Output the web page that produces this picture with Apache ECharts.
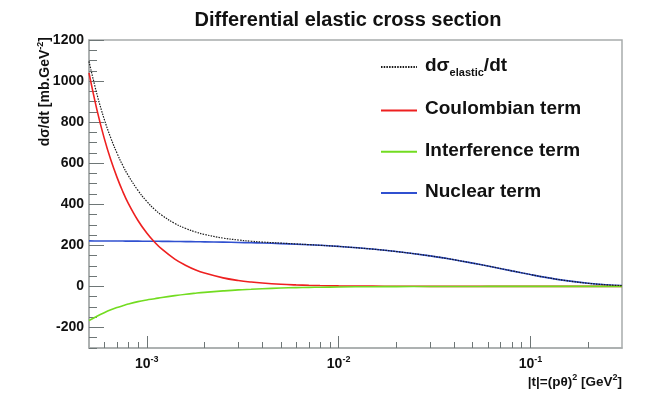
<!DOCTYPE html>
<html>
<head>
<meta charset="utf-8">
<script src="https://cdn.jsdelivr.net/npm/echarts@6/dist/echarts.min.js"></script>
<style>
  html, body { margin: 0; padding: 0; background: #fff; }
  #chart { width: 664px; height: 398px; }
</style>
</head>
<body>
<div id="chart"></div>
<script>
  // |t| sample points [GeV^2] and the curves [mb/GeV^2]
  const tValues = [5e-4, 5.5e-4, 6e-4, 6.5e-4, 7e-4, 7.5e-4, 8e-4, 9e-4,
    1e-3, 1.1e-3, 1.2e-3, 1.4e-3, 1.6e-3, 1.8e-3,
    2e-3, 2.5e-3, 3e-3, 3.5e-3, 4e-3, 5e-3, 6e-3, 7e-3, 8e-3,
    0.01, 0.015, 0.02, 0.03, 0.04, 0.05, 0.06, 0.08,
    0.1, 0.12, 0.15, 0.2, 0.25, 0.3];
  const coulomb = [1040, 860, 722, 615, 531, 462, 406, 321,
    260, 215, 181, 133, 102, 80,
    65, 41.6, 28.9, 21.2, 16.3, 10.4, 7.2, 5.3, 4.1,
    2.6, 1.2, 0.65, 0.29, 0.16, 0.1, 0.07, 0.04,
    0.03, 0.02, 0.01, 0.01, 0, 0];
  const interference = [-166, -145, -128, -114, -103, -94, -86, -74,
    -66, -60, -54, -45, -38, -33,
    -29, -22, -17, -14, -11.5, -8, -6, -4.8, -4,
    -2.8, -1.5, -1, -0.5, -0.3, -0.2, -0.1, 0,
    0, 0, 0, 0, 0, 0];
  const nuclear = [221.5, 221.4, 221.2, 221.1, 220.9, 220.8, 220.6, 220.3,
    220, 219.7, 219.4, 218.8, 218.2, 217.6,
    217, 215.6, 214.1, 212.6, 211.2, 208.4, 205.6, 202.9, 200.2,
    194.8, 182, 170, 148.7, 130, 113.5, 99.2, 75.7,
    57.8, 44.1, 29.4, 15, 7.6, 3.9];
  const total = [1095.5, 936, 815, 722, 648.5, 588.8, 540.6, 467.3,
    414, 374.7, 346, 306.5, 281.8, 264.8,
    253, 235.2, 226, 219.8, 216, 210.8, 206.8, 203.4, 200.3,
    194.6, 181.7, 169.7, 148.5, 129.9, 113.4, 99.2, 75.7,
    57.8, 44.1, 29.4, 15, 7.6, 3.9];

  const seriesNames = ['d\u03c3elastic/dt', 'Coulombian term', 'Interference term', 'Nuclear term'];
  const xMajorTicks = [0.001, 0.01, 0.1];
  const xMinorTicks = [6e-4, 7e-4, 8e-4, 9e-4,
    2e-3, 3e-3, 4e-3, 5e-3, 6e-3, 7e-3, 8e-3, 9e-3,
    0.02, 0.03, 0.04, 0.05, 0.06, 0.07, 0.08, 0.09, 0.2];
  const yMajorTicks = [-200, 0, 200, 400, 600, 800, 1000, 1200];

  const FONT = '"Liberation Sans", Arial, Helvetica, sans-serif';
  const frameColor = '#a8acac';
  const tickColor = '#6e7676';

  function pairs(values) {
    return tValues.map((t, i) => [t, values[i]]);
  }

  function lineSeries(name, values, color, type, width, z) {
    return {
      name: name,
      type: 'line',
      xAxisIndex: 0,
      yAxisIndex: 0,
      data: pairs(values),
      symbol: 'none',
      smooth: 0.4,
      lineStyle: { color: color, width: width, type: type },
      itemStyle: { color: color },
      z: z
    };
  }

  const grid = { left: 89, right: 42, top: 40, bottom: 50 };

  const chart = echarts.init(document.getElementById('chart'), null, { renderer: 'canvas' });

  chart.setOption({
    animation: false,
    backgroundColor: '#ffffff',
    grid: [
      Object.assign({ show: true, borderColor: frameColor, borderWidth: 1.5 }, grid),
      Object.assign({ show: false }, grid)
    ],
    legend: {
      data: seriesNames,
      orient: 'vertical',
      left: 375,
      top: 51,
      itemWidth: 36,
      itemHeight: 22,
      itemGap: 21.5,
      itemStyle: { opacity: 0 },
      formatter: function (name) {
        if (name === seriesNames[0]) return '{b|d\u03c3}{sub|elastic}{b|/dt}';
        return '{b|' + name + '}';
      },
      textStyle: {
        padding: [0, 0, 0, 3],
        rich: {
          b: { fontFamily: FONT, fontWeight: 'bold', fontSize: 19, color: '#111', lineHeight: 22, verticalAlign: 'top' },
          sub: { fontFamily: FONT, fontWeight: 'bold', fontSize: 11, color: '#111', lineHeight: 10, verticalAlign: 'bottom' }
        }
      }
    },
    xAxis: [
      {
        type: 'log',
        logBase: 10,
        gridIndex: 0,
        min: 5e-4,
        max: 0.3,
        position: 'bottom',
        axisLine: { show: true, onZero: false, lineStyle: { color: frameColor, width: 1.5 } },
        axisTick: { show: true, inside: true, length: 12, customValues: xMajorTicks, lineStyle: { color: tickColor } },
        axisLabel: {
          customValues: xMajorTicks,
          margin: 7,
          formatter: function (v) {
            return '{b|10}{s|' + Math.round(Math.log10(v)) + '}';
          },
          rich: {
            b: { fontFamily: FONT, fontWeight: 'bold', fontSize: 14, color: '#111', lineHeight: 16, verticalAlign: 'bottom' },
            s: { fontFamily: FONT, fontWeight: 'bold', fontSize: 9, color: '#111', lineHeight: 6, verticalAlign: 'top' }
          }
        },
        splitLine: { show: false }
      },
      {
        type: 'log',
        logBase: 10,
        gridIndex: 1,
        min: 5e-4,
        max: 0.3,
        position: 'bottom',
        axisLine: { show: false, onZero: false },
        axisTick: { show: true, inside: true, length: 6, customValues: xMinorTicks, lineStyle: { color: tickColor } },
        axisLabel: { show: false },
        splitLine: { show: false }
      }
    ],
    yAxis: [
      {
        type: 'value',
        gridIndex: 0,
        min: -300,
        max: 1200,
        interval: 50,
        position: 'left',
        axisLine: { show: true, onZero: false, lineStyle: { color: frameColor, width: 1.5 } },
        axisTick: { show: true, inside: true, length: 15, customValues: yMajorTicks, lineStyle: { color: tickColor } },
        axisLabel: {
          customValues: yMajorTicks,
          margin: 5,
          formatter: function (v) { return String(v); },
          fontFamily: FONT,
          fontWeight: 'bold',
          fontSize: 14,
          color: '#111'
        },
        splitLine: { show: false }
      },
      {
        type: 'value',
        gridIndex: 1,
        min: -300,
        max: 1200,
        interval: 50,
        position: 'left',
        axisLine: { show: false, onZero: false },
        axisTick: { show: true, inside: true, length: 8, lineStyle: { color: tickColor } },
        axisLabel: { show: false },
        splitLine: { show: false }
      }
    ],
    graphic: [
      {
        type: 'text',
        x: 348,
        y: 20,
        style: {
          text: 'Differential elastic cross section',
          fontFamily: FONT,
          fontWeight: 'bold',
          fontSize: 20,
          fill: '#111',
          align: 'center',
          verticalAlign: 'middle',
          textAlign: 'center',
          textVerticalAlign: 'middle'
        }
      },
      {
        type: 'text',
        x: 44,
        y: 37,
        rotation: Math.PI / 2,
        style: {
          text: '{b|d\u03c3/dt [mb.GeV}{s|-2}{b|]}',
          align: 'right',
          verticalAlign: 'middle',
          textAlign: 'right',
          textVerticalAlign: 'middle',
          rich: {
            b: { fontFamily: FONT, fontWeight: 'bold', fontSize: 14, fill: '#111', lineHeight: 16, verticalAlign: 'bottom' },
            s: { fontFamily: FONT, fontWeight: 'bold', fontSize: 9, fill: '#111', lineHeight: 6, verticalAlign: 'top' }
          }
        }
      },
      {
        type: 'text',
        x: 622,
        y: 381,
        style: {
          text: '{b|\u007ct\u007c=(p\u03b8)}{s|2}{b| [GeV}{s|2}{b|]}',
          align: 'right',
          verticalAlign: 'middle',
          textAlign: 'right',
          textVerticalAlign: 'middle',
          rich: {
            b: { fontFamily: FONT, fontWeight: 'bold', fontSize: 13.5, fill: '#111', lineHeight: 16, verticalAlign: 'bottom' },
            s: { fontFamily: FONT, fontWeight: 'bold', fontSize: 9, fill: '#111', lineHeight: 6, verticalAlign: 'top' }
          }
        }
      }
    ],
    series: [
      lineSeries(seriesNames[1], coulomb, '#ee2020', 'solid', 1.6, 3),
      lineSeries(seriesNames[2], interference, '#72dc20', 'solid', 1.6, 4),
      lineSeries(seriesNames[3], nuclear, '#3050d0', 'solid', 1.6, 2),
      lineSeries(seriesNames[0], total, '#1a1a1a', [1.5, 1.2], 1.2, 5)
    ]
  });
</script>
</body>
</html>
